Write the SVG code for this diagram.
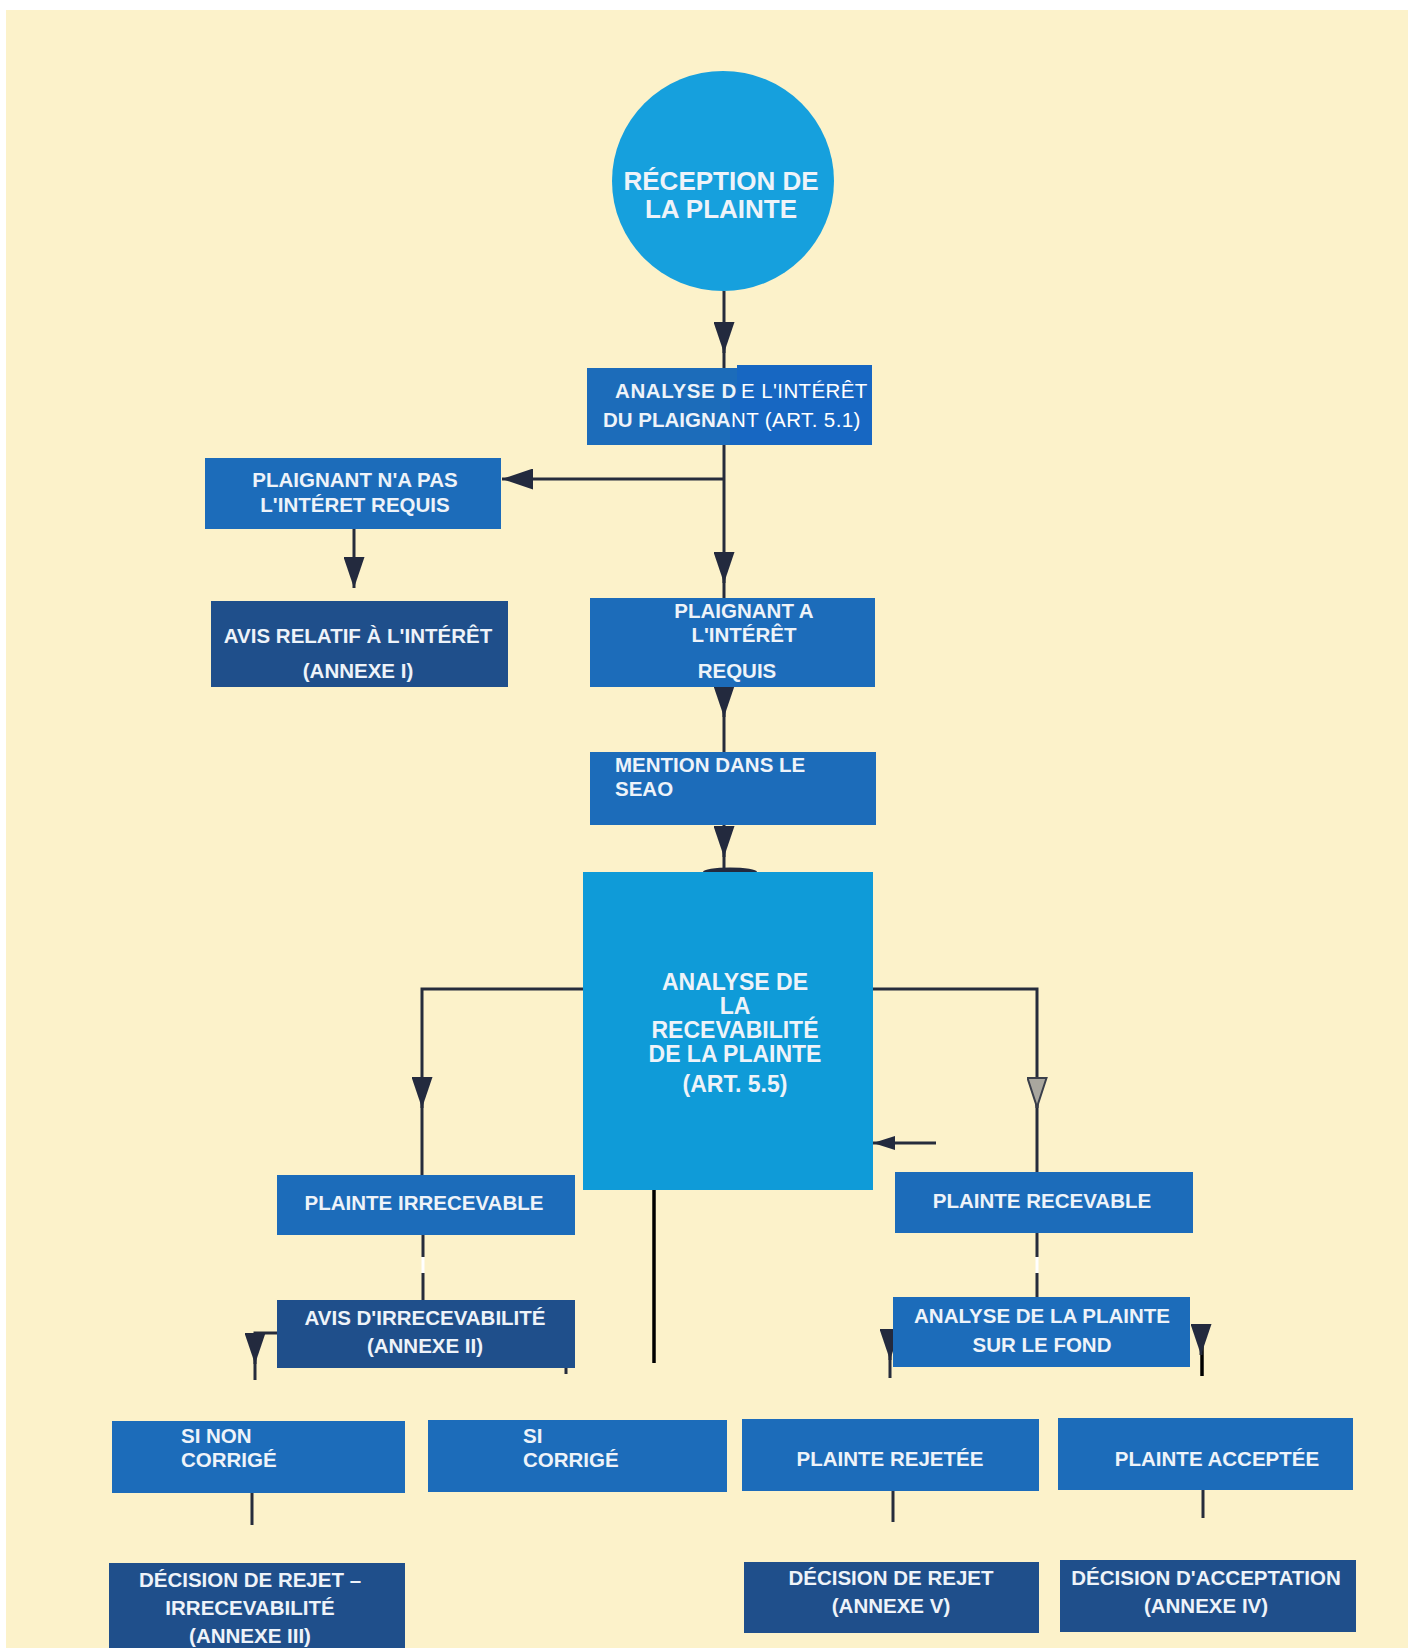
<svg xmlns="http://www.w3.org/2000/svg" width="1408" height="1648" viewBox="0 0 1408 1648">
<defs>
<style>
.bg{fill:#fcf2ca}
.mid{fill:#1c6cba}
.navy{fill:#1f4f8b}
.cyan{fill:#0f9bd8}
.t{font-family:"Liberation Sans",Arial,sans-serif;font-weight:bold;font-size:20.5px;fill:#eef3f9}
.c{text-anchor:middle}
.big{font-size:23px}
.reg{font-weight:normal;fill:#ffffff;letter-spacing:0.4px}
.ln{fill:none;stroke:#262c3c;stroke-width:3}
.blk{fill:none;stroke:#000;stroke-width:3.5}
.ar{fill:none;stroke:#262c3c;stroke-width:3}
</style>
<marker id="ah" viewBox="0 0 31 21" refX="31" refY="10.5" markerWidth="31" markerHeight="21" orient="auto" markerUnits="userSpaceOnUse">
<path d="M0 0 L31 10.5 L0 21 Z" fill="#232a3e"/>
</marker>
<marker id="ahh" viewBox="0 0 31 21" refX="31" refY="10.5" markerWidth="31" markerHeight="21" orient="auto" markerUnits="userSpaceOnUse">
<path d="M1 1 L30 10.5 L1 20 Z" fill="#a9a79e" stroke="#3a3f4a" stroke-width="2"/>
</marker>
<marker id="ahs" viewBox="0 0 22 14" refX="22" refY="7" markerWidth="22" markerHeight="14" orient="auto" markerUnits="userSpaceOnUse">
<path d="M0 0 L22 7 L0 14 Z" fill="#232a3e"/>
</marker>
<clipPath id="cc"><rect x="0" y="0" width="834" height="400"/></clipPath>
</defs>
<rect x="0" y="0" width="1408" height="1648" fill="#ffffff"/>
<rect class="bg" x="6" y="10" width="1402" height="1638"/>

<g id="connectors">
<path class="ln" d="M724 291 V368"/>
<path class="ar" d="M724 330 V353" marker-end="url(#ah)"/>
<path class="ln" d="M724 445 V598"/>
<path class="ar" d="M724 560 V583" marker-end="url(#ah)"/>
<path class="ln" d="M724 479 H502" marker-end="url(#ah)"/>
<path class="ln" d="M354 529 V588" marker-end="url(#ah)"/>
<path class="ln" d="M724 687 V752"/>
<path class="ar" d="M724 690 V717" marker-end="url(#ah)"/>
<path class="ln" d="M724 825 V872"/>
<path class="ar" d="M724 830 V857" marker-end="url(#ah)"/>
<ellipse cx="730" cy="872" rx="27" ry="4.5" fill="#232a3e"/>
<path class="ln" d="M583 989 H422 V1175"/>
<path class="ar" d="M422 1080 V1108" marker-end="url(#ah)"/>
<path class="ln" d="M873 989 H1037 V1172"/>
<path class="ar" d="M1037 1080 V1108" marker-end="url(#ahh)"/>
<path class="ln" d="M936 1143 H873" marker-end="url(#ahs)"/>
<path class="blk" d="M654 1190 V1363"/>
<path class="ln" d="M423 1235 V1257 M423 1273 V1300"/>
<path d="M423 1257 V1273" stroke="#ffffff" stroke-width="3"/>
<path class="ln" d="M277 1333 H255 V1380"/>
<path class="ar" d="M255 1336 V1364" marker-end="url(#ah)"/>
<path class="ln" d="M566 1366 V1374"/>
<path class="ln" d="M252 1493 V1525"/>
<path class="ln" d="M1037 1233 V1257 M1037 1273 V1297"/>
<path d="M1037 1257 V1273" stroke="#ffffff" stroke-width="3"/>
<path class="ln" d="M890 1330 V1378"/>
<path class="ar" d="M890 1332 V1360" marker-end="url(#ah)"/>
<path class="blk" d="M1202 1330 V1376"/>
<path class="ar" d="M1201 1330 V1355" marker-end="url(#ah)"/>
<path class="ln" d="M893 1491 V1522"/>
<path class="ln" d="M1203 1490 V1518"/>
</g>

<g id="n-reception">
<ellipse cx="723" cy="181" rx="111" ry="110" fill="#16a0dd" clip-path="url(#cc)"/>
<text class="t c" x="721" y="190" style="font-size:26px">RÉCEPTION DE</text>
<text class="t c" x="721" y="218" style="font-size:26px">LA PLAINTE</text>
</g>

<g id="n-analyse-interet">
<rect class="mid" x="587" y="368" width="150" height="77"/>
<path d="M737 365 H872 V445 H730 V393 H737 Z" fill="#1767c2"/>
<text class="t" x="615" y="398" letter-spacing="0.6">ANALYSE D<tspan class="reg" x="741">E L'INTÉRÊT</tspan></text>
<text class="t" x="603" y="427">DU PLAIGNA<tspan class="reg" x="731">NT (ART. 5.1)</tspan></text>
</g>

<g id="n-pas-interet">
<rect class="mid" x="205" y="458" width="296" height="71"/>
<text class="t c" x="355" y="487">PLAIGNANT N'A PAS</text>
<text class="t c" x="355" y="512">L'INTÉRET REQUIS</text>
</g>

<g id="n-avis-interet">
<rect class="navy" x="211" y="601" width="297" height="86"/>
<text class="t c" x="358" y="643">AVIS RELATIF À L'INTÉRÊT</text>
<text class="t c" x="358" y="678">(ANNEXE I)</text>
</g>

<g id="n-a-interet">
<rect class="mid" x="590" y="598" width="285" height="89"/>
<text class="t c" x="744" y="618">PLAIGNANT A</text>
<text class="t c" x="744" y="642">L'INTÉRÊT</text>
<text class="t c" x="737" y="678">REQUIS</text>
</g>

<g id="n-mention">
<rect class="mid" x="590" y="752" width="286" height="73"/>
<text class="t" x="615" y="772">MENTION DANS LE</text>
<text class="t" x="615" y="796">SEAO</text>
</g>

<g id="n-recevabilite">
<rect class="cyan" x="583" y="872" width="290" height="318"/>
<text class="t c big" x="735" y="990">ANALYSE DE</text>
<text class="t c big" x="735" y="1014">LA</text>
<text class="t c big" x="735" y="1038">RECEVABILITÉ</text>
<text class="t c big" x="735" y="1062">DE LA PLAINTE</text>
<text class="t c big" x="735" y="1092">(ART. 5.5)</text>
</g>

<g id="n-irrecevable">
<rect class="mid" x="277" y="1175" width="298" height="60"/>
<text class="t c" x="424" y="1210">PLAINTE IRRECEVABLE</text>
</g>

<g id="n-avis-irrecevabilite">
<rect class="navy" x="277" y="1300" width="298" height="68"/>
<text class="t c" x="425" y="1325">AVIS D'IRRECEVABILITÉ</text>
<text class="t c" x="425" y="1353">(ANNEXE II)</text>
</g>

<g id="n-recevable">
<rect class="mid" x="895" y="1172" width="298" height="61"/>
<text class="t c" x="1042" y="1208">PLAINTE RECEVABLE</text>
</g>

<g id="n-fond">
<rect class="mid" x="893" y="1297" width="297" height="70"/>
<text class="t c" x="1042" y="1323">ANALYSE DE LA PLAINTE</text>
<text class="t c" x="1042" y="1352">SUR LE FOND</text>
</g>

<g id="n-si-non">
<rect class="mid" x="112" y="1421" width="293" height="72"/>
<text class="t" x="181" y="1443">SI NON</text>
<text class="t" x="181" y="1467">CORRIGÉ</text>
</g>

<g id="n-si">
<rect class="mid" x="428" y="1420" width="299" height="72"/>
<text class="t" x="523" y="1443">SI</text>
<text class="t" x="523" y="1467">CORRIGÉ</text>
</g>

<g id="n-rejetee">
<rect class="mid" x="742" y="1419" width="297" height="72"/>
<text class="t c" x="890" y="1466">PLAINTE REJETÉE</text>
</g>

<g id="n-acceptee">
<rect class="mid" x="1058" y="1418" width="295" height="72"/>
<text class="t c" x="1217" y="1466">PLAINTE ACCEPTÉE</text>
</g>

<g id="n-decision-irrecevabilite">
<rect class="navy" x="109" y="1563" width="296" height="85"/>
<text class="t c" x="250" y="1587">DÉCISION DE REJET –</text>
<text class="t c" x="250" y="1615">IRRECEVABILITÉ</text>
<text class="t c" x="250" y="1643">(ANNEXE III)</text>
</g>

<g id="n-decision-rejet">
<rect class="navy" x="744" y="1562" width="295" height="71"/>
<text class="t c" x="891" y="1585">DÉCISION DE REJET</text>
<text class="t c" x="891" y="1613">(ANNEXE V)</text>
</g>

<g id="n-decision-acceptation">
<rect class="navy" x="1060" y="1560" width="296" height="72"/>
<text class="t c" x="1206" y="1585">DÉCISION D'ACCEPTATION</text>
<text class="t c" x="1206" y="1613">(ANNEXE IV)</text>
</g>
</svg>
